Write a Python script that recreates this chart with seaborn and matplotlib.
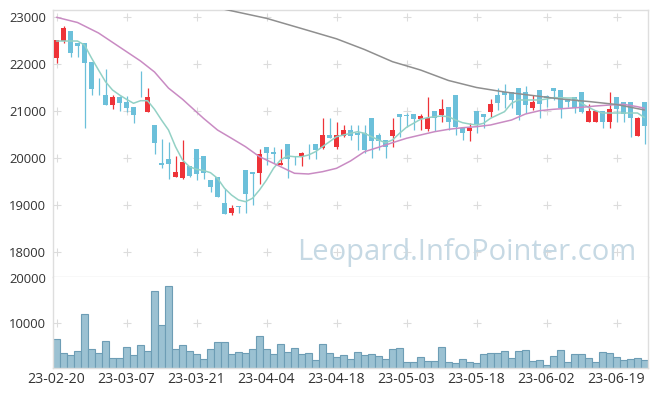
import numpy as np
import pandas as pd
import matplotlib
matplotlib.use("Agg")
import matplotlib.pyplot as plt
import seaborn as sns

# --- trading days (KRX holidays removed) ---
holidays = ["2023-03-01", "2023-05-01", "2023-05-05", "2023-05-29", "2023-06-06"]
days = pd.bdate_range("2023-02-20", "2023-06-23")
days = days[~days.isin(pd.to_datetime(holidays))]

# --- daily OHLC ---
open_ = [22134, 22496, 22702, 22453, 22440, 22040, 21490, 21340, 21134, 21298,
         21198, 21078, 21490, 20985, 20695, 19890, 19978, 19600, 19580, 19830,
         20190, 20040, 19530, 19590, 19050, 18823, 18970, 19744, 19700, 19674,
         20230, 20134, 19845, 20300, 20000, 20027, 20300, 20297, 20219, 20489,
         20227, 20468, 20595, 20540, 20538, 20844, 20489, 20383, 20474, 20936,
         20900, 20936, 20829, 20617, 21000, 20915, 21078, 21340, 20632, 20580,
         21000, 20936, 20985, 21340, 21410, 21398, 21483, 21410, 21070, 21447,
         21325, 21489, 21447, 21249, 21291, 21398, 20772, 20772, 21000, 20772,
         21291, 21185, 21185, 20474, 21185]
high = [22520, 22808, 22702, 22453, 22440, 22040, 21696, 21887, 21334, 21319,
        21319, 21078, 21851, 21483, 20695, 20397, 20333, 20040, 20380, 19830,
        20190, 20040, 19530, 19590, 19333, 18999, 18978, 19744, 19700, 20197,
        20230, 20240, 20184, 20300, 20042, 20134, 20300, 20297, 20844, 20844,
        20766, 20702, 20702, 20702, 20702, 20844, 20538, 20383, 20844, 20936,
        20951, 20936, 20936, 21291, 21000, 21250, 21078, 21340, 20632, 20740,
        21000, 20936, 21250, 21483, 21580, 21398, 21483, 21530, 21340, 21447,
        21340, 21489, 21447, 21249, 21291, 21398, 21142, 21000, 21000, 21398,
        21291, 21185, 21185, 20870, 21185]
low = [22030, 22440, 22142, 22142, 20631, 21334, 21334, 21134, 21036, 21006,
       20985, 20738, 21291, 20985, 20078, 19780, 19546, 19600, 19550, 19589,
       19531, 19550, 19270, 19176, 18800, 18786, 18823, 18836, 18999, 19446,
       19851, 19886, 19845, 19567, 19851, 19830, 19972, 19972, 20184, 20432,
       20184, 20453, 20383, 20170, 20100, 19993, 20170, 19993, 20227, 20453,
       20666, 20595, 20595, 20580, 20580, 20772, 20595, 20489, 20383, 20368,
       20540, 20632, 20878, 21021, 21057, 21057, 20808, 20951, 21021, 20844,
       21078, 21234, 20844, 21078, 20951, 20950, 20772, 20772, 20632, 20632,
       20772, 20772, 20440, 20474, 20300]
close = [22510, 22760, 22240, 22390, 22030, 21474, 21480, 21134, 21291, 21176,
         21070, 20921, 21480, 21298, 20325, 19860, 19872, 19700, 19914, 19620,
         19650, 19670, 19390, 19176, 18810, 18942, 18960, 19227, 19660, 20085,
         20110, 20080, 19900, 19970, 19990, 20099, 20290, 20170, 20489, 20432,
         20489, 20595, 20474, 20490, 20170, 20368, 20361, 20227, 20595, 20878,
         20893, 20829, 20893, 20844, 20844, 21042, 20772, 20666, 20525, 20632,
         20723, 20878, 21142, 21176, 21340, 21234, 20915, 21127, 21185, 21142,
         21283, 21425, 21070, 21185, 21070, 20985, 21000, 21000, 20772, 21042,
         21036, 20930, 20844, 20857, 20687]
volume = [6290, 3330, 2890, 3780, 12070, 4070, 3180, 5850, 2070, 2220,
          4510, 2890, 5110, 3620, 17180, 9550, 18290, 4070, 5110, 3780,
          3110, 2000, 4220, 5780, 5780, 3110, 3560, 3330, 4220, 7110,
          4220, 3110, 5330, 3560, 4440, 3110, 3330, 1780, 5330, 3330,
          2440, 2890, 2000, 3560, 2890, 3110, 2670, 2000, 4220, 4440,
          1330, 1330, 2440, 1560, 1560, 4670, 1330, 1110, 2000, 1330,
          1110, 3110, 3330, 3330, 3780, 2220, 3780, 4000, 1560, 1780,
          670, 2670, 4000, 1330, 3110, 3110, 2220, 1330, 3560, 3330,
          2440, 1780, 2000, 2220, 1780]

# --- moving averages ---
ma5 = [22489, 22489, 22489, 22489, 22404, 22128, 21872, 21623, 21447, 21340,
       21249, 21164, 21219, 21219, 21036, 20808, 20595, 20240, 19957, 19814,
       19759, 19733, 19687, 19567, 19355, 19212, 19106, 19070, 19142, 19319,
       19531, 19780, 19957, 20042, 20027, 20027, 20063, 20134, 20240, 20346,
       20453, 20489, 20525, 20559, 20525, 20453, 20383, 20325, 20383, 20525,
       20653, 20738, 20823, 20857, 20878, 20893, 20878, 20808, 20751, 20723,
       20702, 20738, 20844, 20915, 20985, 21164, 21234, 21234, 21234, 21234,
       21255, 21283, 21283, 21276, 21276, 21164, 21078, 21006, 20957, 20957,
       20957, 20957, 20957, 20957, 20861]
ma20_x = [0, 3, 6, 9, 12, 14, 16, 18, 20, 21, 23, 25, 27, 29, 31, 33, 34, 36, 38, 40,
          42, 44, 46, 48, 50, 52, 54, 56, 58, 60, 62, 63, 65, 67, 69, 71, 73, 75, 77,
          79, 81, 83, 84]
ma20 = [22994, 22883, 22660, 22362, 22064, 21830, 21487, 21250, 20979, 20844,
        20595, 20419, 20240, 20027, 19887, 19744, 19674, 19659, 19708, 19780,
        19936, 20134, 20227, 20325, 20419, 20489, 20559, 20610, 20644, 20666,
        20702, 20738, 20808, 20936, 21006, 21036, 21057, 21078, 21106, 21127,
        21142, 21091, 21057]
ma_long_x = [20, 24, 30, 35, 40, 44, 48, 52, 56, 60, 64, 68, 72, 76, 80, 84]
ma_long = [23298, 23164, 22972, 22755, 22536, 22308, 22049, 21872, 21649, 21500,
           21404, 21330, 21255, 21202, 21138, 21021]

price_ticks = [18000, 19000, 20000, 21000, 22000, 23000]
volume_ticks = [10000, 20000]
label_step = 10


def main():
    sns.set_theme(style="white")
    plt.rcParams["font.family"] = ["Open Sans", "DejaVu Sans"]

    n = len(close)
    x = np.arange(n)
    o = np.array(open_)
    c = np.array(close)
    up = c >= o
    red, blue = "#ee3338", "#6cc0da"
    colors = np.where(up, red, blue)

    W, H = 657, 396
    fig = plt.figure(figsize=(W / 100, H / 100), dpi=100)
    ax = fig.add_axes([53 / W, 1 - 277 / H, 595 / W, 267 / H])
    axv = fig.add_axes([53 / W, 1 - 367.5 / H, 595 / W, 90.5 / H])

    # --- grid crosses ---
    gx = x[::label_step]
    for a, ys in ((ax, price_ticks), (axv, volume_ticks[:1])):
        X, Y = np.meshgrid(gx, ys)
        a.scatter(X.ravel(), Y.ravel(), marker="+", s=28, color="#dcdcdc",
                  linewidths=0.8, zorder=0)

    # --- watermark (over the crosses, under the candles) ---
    ax.text(0.696, 0.09, "Leopard.InfoPointer.com", transform=ax.transAxes,
            ha="center", va="center", fontsize=21, color="#c6d9e4", zorder=1)

    # --- candles ---
    ax.vlines(x, low, high, colors=colors, linewidth=0.9, zorder=2)
    bottom = np.minimum(o, c)
    height = np.maximum(np.abs(c - o), 14)
    ax.bar(x, height, bottom=bottom, width=0.7, color=colors, linewidth=0, zorder=3)

    # --- moving averages ---
    sns.lineplot(x=x, y=ma5, ax=ax, color="#93d1c5", linewidth=1.1, zorder=4)
    sns.lineplot(x=ma20_x, y=ma20, ax=ax, color="#c98bc3", linewidth=1.1, zorder=4)
    sns.lineplot(x=ma_long_x, y=ma_long, ax=ax, color="#8f8f8f", linewidth=1.1, zorder=4)

    # --- volume ---
    sns.barplot(x=x, y=volume, ax=axv, native_scale=True, width=1, errorbar=None,
                color="#9bc1d2", edgecolor="#6d9db5", linewidth=0.8, saturation=1)

    for a in (ax, axv):
        a.set_xlim(-0.5, n - 0.5)
        a.set_xlabel("")
        a.set_ylabel("")
        a.tick_params(length=0, labelsize=9.4, colors="#333333", pad=5)
        for s in a.spines.values():
            s.set_color("#dedede")
            s.set_linewidth(1)
    axv.spines["top"].set_visible(False)

    ax.set_ylim(17467, 23149)
    ax.set_yticks(price_ticks)
    ax.set_yticklabels([str(t) for t in price_ticks])
    ax.set_xticks([])

    axv.set_ylim(0, 20290)
    axv.set_yticks(volume_ticks)
    axv.set_yticklabels([str(t) for t in volume_ticks])
    axv.set_xticks(gx)
    axv.set_xticklabels(days[::label_step].strftime("%y-%m-%d"))
    axv.tick_params(axis="x", pad=3, labelsize=10.2)

    fig.savefig("out.png", dpi=100)


if __name__ == "__main__":
    main()
